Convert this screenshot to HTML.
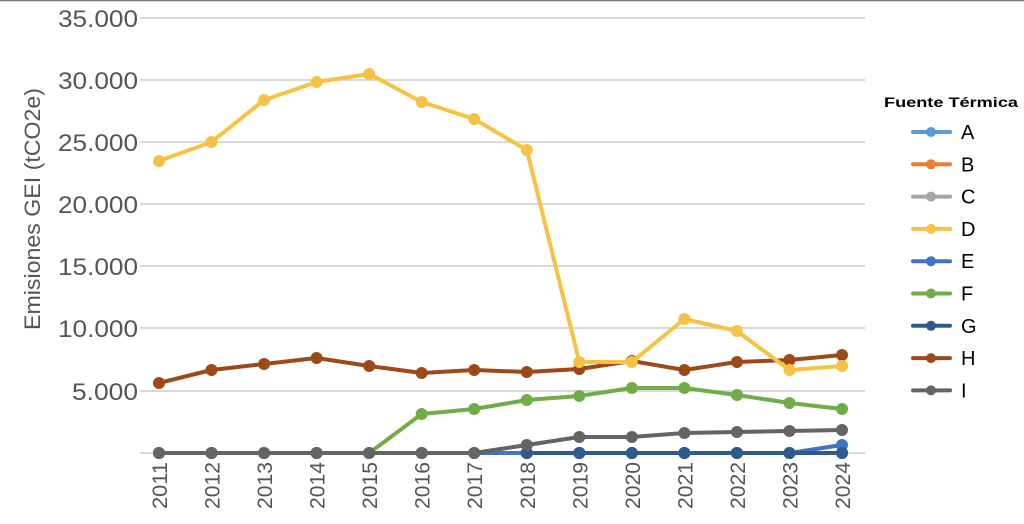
<!DOCTYPE html>
<html><head><meta charset="utf-8"><style>body{margin:0;background:#fff}svg{display:block}text{font-family:"Liberation Sans",sans-serif}</style></head><body>
<svg width="1024" height="524" viewBox="0 0 1024 524">
<line x1="0" y1="0.5" x2="1024" y2="0.5" stroke="#777" stroke-width="1.5"/>
<g stroke="#d9d9d9" stroke-width="2">
<line x1="140" x2="865" y1="18" y2="18"/><line x1="140" x2="865" y1="80" y2="80"/><line x1="140" x2="865" y1="142" y2="142"/><line x1="140" x2="865" y1="204" y2="204"/><line x1="140" x2="865" y1="266" y2="266"/><line x1="140" x2="865" y1="328" y2="328"/><line x1="140" x2="865" y1="391" y2="391"/><line x1="140" x2="865" y1="453" y2="453"/>
</g>
<g fill="#555" font-size="24" text-anchor="end">
<text x="138" y="27" textLength="80" lengthAdjust="spacingAndGlyphs">35.000</text><text x="138" y="89" textLength="80" lengthAdjust="spacingAndGlyphs">30.000</text><text x="138" y="151" textLength="80" lengthAdjust="spacingAndGlyphs">25.000</text><text x="138" y="213" textLength="80" lengthAdjust="spacingAndGlyphs">20.000</text><text x="138" y="275" textLength="80" lengthAdjust="spacingAndGlyphs">15.000</text><text x="138" y="337" textLength="80" lengthAdjust="spacingAndGlyphs">10.000</text><text x="138" y="400" textLength="66" lengthAdjust="spacingAndGlyphs">5.000</text>
</g>
<text transform="translate(40,209) rotate(-90)" text-anchor="middle" fill="#555" font-size="22" textLength="242" lengthAdjust="spacingAndGlyphs">Emisiones GEI (tCO2e)</text>
<g fill="#555" font-size="21" text-anchor="end" id="yrs"></g>
<g id="plot"></g>
<text x="884" y="107" font-size="14" font-weight="bold" fill="#000" textLength="134" lengthAdjust="spacingAndGlyphs">Fuente Térmica</text>
<g id="leg"></g>
</svg>
<script>
var ns="http://www.w3.org/2000/svg";
function el(p,t,a){var e=document.createElementNS(ns,t);for(var k in a)e.setAttribute(k,a[k]);p.appendChild(e);return e;}
var X=[];for(var i=0;i<14;i++)X.push(159+52.54*i);
var yrs=document.getElementById('yrs');
for(var i=0;i<14;i++){var t=el(yrs,'text',{transform:'translate('+(X[i]+8)+',462) rotate(-90)',textLength:47,lengthAdjust:'spacingAndGlyphs'});t.textContent=2011+i;}
var z=[453,453,453,453,453,453,453,453,453,453,453,453,453,453];
var S=[
['A','#5b9bd5',z,0],['B','#ed7d31',z,0],['C','#a5a5a5',z,0],
['D','#f6c244',[161,142,100,82,74,102,119,150,362,362,319,331,370,366],0],
['E','#4472c4',[453,453,453,453,453,453,453,453,453,453,453,453,453,445],0],
['F','#70ad47',[453,453,453,453,453,414,409,400,396,388,388,395,403,409],0],
['G','#2f5b8c',z,7],
['H','#9c4a1a',[383,370,364,358,366,373,370,372,369,361,370,362,360,355],0],
['I','#646464',[453,453,453,453,453,453,453,445,437,437,433,432,431,430],0]];
var order=[0,1,2,4,6,5,8,7,3];
var plot=document.getElementById('plot');
order.forEach(function(k){var s=S[k];var d='';var st=s[3];
for(var i=st;i<14;i++)d+=(i==st?'M':'L')+X[i].toFixed(1)+' '+s[2][i];
el(plot,'path',{d:d,fill:'none',stroke:s[1],'stroke-width':4,'stroke-linejoin':'round'});
for(var i=st;i<14;i++)el(plot,'circle',{cx:X[i],cy:s[2][i],r:6,fill:s[1]});});
var leg=document.getElementById('leg');
S.forEach(function(s,j){var y=132+32.3*j;
el(leg,'line',{x1:913,x2:950,y1:y,y2:y,stroke:s[1],'stroke-width':4,'stroke-linecap':'round'});
el(leg,'circle',{cx:931,cy:y,r:5,fill:s[1]});
var t=el(leg,'text',{x:961,y:y+7,'font-size':20,fill:'#000'});t.textContent=s[0];});
</script>
</body></html>
